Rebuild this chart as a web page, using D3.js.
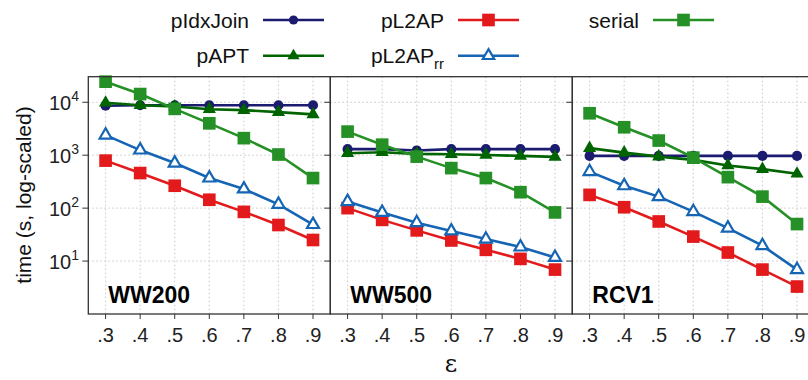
<!DOCTYPE html>
<html>
<head>
<meta charset="utf-8">
<script src="https://cdn.jsdelivr.net/npm/d3@7"></script>
<style>
  body { margin: 0; background: #fff; }
  svg { font-family: "Liberation Sans", Arial, sans-serif; }
</style>
</head>
<body>
<div id="chart"></div>
<script>
const eps = [0.3, 0.4, 0.5, 0.6, 0.7, 0.8, 0.9];
const epsLabels = ['.3', '.4', '.5', '.6', '.7', '.8', '.9'];
const datasets = ['WW200', 'WW500', 'RCV1'];
const yTicks = [10, 100, 1000, 10000];

// one row per dataset (WW200, WW500, RCV1)
const pIdxJoin = [
  [8600, 8800, 8800, 8800, 8800, 8800, 8800],
  [1300, 1300, 1230, 1300, 1300, 1300, 1300],
  [970, 970, 970, 970, 970, 970, 970]
];
const pAPT = [
  [9800, 8800, 8300, 7400, 7100, 6500, 5900],
  [1090, 1140, 1060, 1040, 1010, 970, 930],
  [1360, 1120, 940, 815, 640, 545, 445]
];
const pL2AP = [
  [790, 460, 265, 144, 85, 48, 25],
  [100, 60, 38, 24.5, 16.3, 11, 6.9],
  [178, 104, 56, 29, 14.5, 6.9, 3.3]
];
const pL2APrr = [
  [2400, 1250, 710, 370, 230, 118, 49],
  [133, 83, 53, 37, 26, 18.4, 11.7],
  [490, 264, 165, 86, 42, 19.5, 6.9]
];
const serial = [
  [24500, 14300, 7500, 4000, 2100, 1030, 370],
  [2790, 1580, 940, 570, 370, 200, 83],
  [6200, 3370, 1890, 900, 385, 165, 50]
];

const series = [
  { name: 'pIdxJoin', values: pIdxJoin, color: '#1b1b6f', shape: 'circle' },
  { name: 'pAPT', values: pAPT, color: '#006400', shape: 'triangle' },
  { name: 'pL2AP', values: pL2AP, color: '#e31a1c', shape: 'square' },
  { name: 'pL2APrr', values: pL2APrr, color: '#1565b4', shape: 'open' },
  { name: 'serial', values: serial, color: '#259025', shape: 'square' }
];

const W = 808, H = 380;
const panelTop = 76.7, panelBottom = 314, panelWidth = 242;
const panelLefts = [88.3, 330.3, 572.3];

const svg = d3.select('#chart').append('svg')
  .attr('width', W)
  .attr('height', H);

const yScale = d3.scaleLog()
  .domain([1, Math.pow(10, 4.483)])
  .range([panelBottom, panelTop]);

var symbolFor = function(shape, big) {
  if (shape === 'circle') return d3.symbol(d3.symbolCircle, big ? 80 : 66)();
  if (shape === 'square') return d3.symbol(d3.symbolSquare, big ? 160 : 160)();
  if (shape === 'triangle') return d3.symbol(d3.symbolTriangle, big ? 75 : 65)();
  return d3.symbol(d3.symbolTriangle, big ? 62 : 56)();
};

var drawMarker = function(g, s, x, y, big) {
  g.append('path')
    .attr('d', symbolFor(s.shape, big))
    .attr('transform', 'translate(' + x + ',' + y + ')')
    .attr('fill', s.shape === 'open' ? '#fff' : s.color)
    .attr('stroke', s.shape === 'open' ? s.color : 'none')
    .attr('stroke-width', s.shape === 'open' ? 2.2 : 0);
};

datasets.forEach(function(ds, p) {
  const left = panelLefts[p];
  const xScale = d3.scaleLinear()
    .domain([0.25, 0.95])
    .range([left, left + panelWidth]);

  const panel = svg.append('g').attr('class', 'panel');

  // grid
  panel.selectAll('line.vgrid').data(eps).enter().append('line')
    .attr('x1', d => xScale(d)).attr('x2', d => xScale(d))
    .attr('y1', panelTop).attr('y2', panelBottom)
    .attr('stroke', '#c8c8c8').attr('stroke-width', 1)
    .attr('stroke-dasharray', '1.5,2.5');
  panel.selectAll('line.hgrid').data(yTicks).enter().append('line')
    .attr('x1', left).attr('x2', left + panelWidth)
    .attr('y1', d => yScale(d)).attr('y2', d => yScale(d))
    .attr('stroke', '#c8c8c8').attr('stroke-width', 1)
    .attr('stroke-dasharray', '1.5,2.5');

  // x ticks and labels
  panel.selectAll('line.xtick').data(eps).enter().append('line')
    .attr('x1', d => xScale(d)).attr('x2', d => xScale(d))
    .attr('y1', panelBottom).attr('y2', panelBottom + 5)
    .attr('stroke', '#333').attr('stroke-width', 1);
  panel.selectAll('text.xlab').data(eps).enter().append('text')
    .attr('x', d => xScale(d))
    .attr('y', 341.5)
    .attr('text-anchor', 'middle')
    .attr('font-size', 20)
    .attr('fill', '#222')
    .text((d, i) => epsLabels[i]);

  // y ticks on the left edge of each panel
  panel.selectAll('line.ytick').data(yTicks).enter().append('line')
    .attr('x1', left - 6).attr('x2', left)
    .attr('y1', d => yScale(d)).attr('y2', d => yScale(d))
    .attr('stroke', '#333').attr('stroke-width', 1);

  // series
  series.forEach(function(s) {
    const vals = s.values[p];
    const line = d3.line()
      .x((d, i) => xScale(eps[i]))
      .y(d => yScale(d));
    panel.append('path')
      .datum(vals)
      .attr('d', line)
      .attr('fill', 'none')
      .attr('stroke', s.color)
      .attr('stroke-width', 2.6);
    vals.forEach(function(v, i) {
      drawMarker(panel, s, xScale(eps[i]), yScale(v), true);
    });
  });

  // border
  panel.append('rect')
    .attr('x', left).attr('y', panelTop)
    .attr('width', panelWidth).attr('height', panelBottom - panelTop)
    .attr('fill', 'none')
    .attr('stroke', '#333').attr('stroke-width', 1.3);

  panel.append('text')
    .attr('x', left + 20)
    .attr('y', 303)
    .attr('font-size', 23)
    .attr('font-weight', 'bold')
    .attr('fill', '#000')
    .text(ds);
});

// y tick labels
const yl = svg.append('g').selectAll('text').data(yTicks).enter().append('text')
  .attr('x', 79)
  .attr('y', d => yScale(d) + 8)
  .attr('text-anchor', 'end')
  .attr('font-size', 20)
  .attr('fill', '#222');
yl.append('tspan').text('10');
yl.append('tspan')
  .attr('dy', -9)
  .attr('font-size', 14)
  .text(d => Math.round(Math.log10(d)));

// axis titles
svg.append('text')
  .attr('transform', 'translate(31,195) rotate(-90)')
  .attr('text-anchor', 'middle')
  .attr('font-size', 21)
  .attr('fill', '#111')
  .text('time (s, log-scaled)');

svg.append('text')
  .attr('x', 451)
  .attr('y', 372)
  .attr('text-anchor', 'middle')
  .attr('font-family', '"DejaVu Serif", "Liberation Serif", serif')
  .attr('font-size', 24)
  .attr('fill', '#111')
  .text('ε');

// legend
const legendCols = [249, 444, 639];
const legendRows = [20, 55.7];
const legendPos = {
  pIdxJoin: [0, 0], pL2AP: [1, 0], serial: [2, 0],
  pAPT: [0, 1], pL2APrr: [1, 1]
};
const legend = svg.append('g').attr('class', 'legend');
series.forEach(function(s) {
  const c = legendPos[s.name][0], r = legendPos[s.name][1];
  const tx = legendCols[c], ty = legendRows[r];
  const t = legend.append('text')
    .attr('x', tx)
    .attr('y', ty + 7.5)
    .attr('text-anchor', 'end')
    .attr('font-size', 21)
    .attr('fill', '#111');
  if (s.name === 'pL2APrr') {
    t.append('tspan').text('pL2AP');
    t.append('tspan').attr('dy', 6).attr('font-size', 15).text('rr');
  } else {
    t.text(s.name);
  }
  legend.append('line')
    .attr('x1', tx + 14).attr('x2', tx + 75)
    .attr('y1', ty).attr('y2', ty)
    .attr('stroke', s.color).attr('stroke-width', 2.6);
  drawMarker(legend, s, tx + 44.5, ty, false);
});
</script>
</body>
</html>
